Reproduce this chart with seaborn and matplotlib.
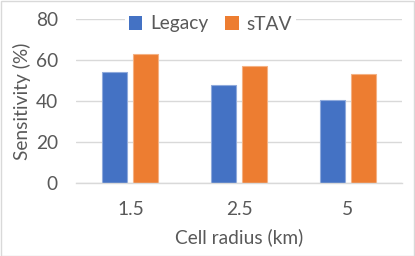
import matplotlib
matplotlib.use("Agg")
import matplotlib.pyplot as plt
import seaborn as sns
import pandas as pd
from matplotlib.patches import Rectangle

categories = ["1.5", "2.5", "5"]
legacy = [54, 48, 40.6]
stav = [63, 57, 53]
series_names = ["Legacy", "sTAV"]
colors = ["#4472C4", "#ED7D31"]
edge_colors = ["#8FAADC", "#F4B183"]

df = pd.DataFrame({
    "radius": categories * 2,
    "value": legacy + stav,
    "series": [series_names[0]] * 3 + [series_names[1]] * 3,
})

sns.set_theme(style="white")
plt.rcParams["font.family"] = ["Lato", "DejaVu Sans"]
text_color = "#595959"
grid_color = "#D9D9D9"
fs = 13.8

fig = plt.figure(figsize=(4.15, 2.56), dpi=100)
W, H = 415, 256
ax = fig.add_axes([76 / W, (H - 183) / H, (402 - 76) / W, (183 - 19) / H])

sns.barplot(data=df, x="radius", y="value", hue="series", order=categories,
            hue_order=series_names, palette=colors, width=0.57, gap=0.19,
            saturation=1, ax=ax, legend=False, errorbar=None)

for i, container in enumerate(ax.containers):
    for p in container:
        p.set_edgecolor(edge_colors[i])
        p.set_linewidth(0.8)

ax.set_ylim(0, 80)
ax.set_yticks([0, 20, 40, 60, 80])
ax.set_xlim(-0.5, 2.5)
ax.grid(axis="y", color=grid_color, linewidth=1)
ax.set_axisbelow(True)
for s in ["top", "right", "left"]:
    ax.spines[s].set_visible(False)
ax.spines["bottom"].set_color(grid_color)
ax.spines["bottom"].set_linewidth(1)

ax.tick_params(axis="both", length=0, labelsize=fs, colors=text_color)
ax.tick_params(axis="y", pad=13)
ax.tick_params(axis="x", pad=13)

ax.set_xlabel("Cell radius (km)", fontsize=fs, color=text_color, labelpad=7)
ax.set_ylabel("Sensitivity (%)", fontsize=fs, color=text_color)
ax.yaxis.set_label_coords(-(76 - 31) / (402 - 76), 0.5)

handles = [Rectangle((0, 0), 1, 1, facecolor=c, edgecolor="none") for c in colors]
leg = ax.legend(handles, series_names, loc="center", bbox_to_anchor=(0.507, 1 - 24 / H),
                bbox_transform=fig.transFigure, ncol=2, frameon=True,
                fontsize=fs, handlelength=0.7, handleheight=0.7,
                handletextpad=0.4, columnspacing=0.9, borderpad=0.2)
leg.get_frame().set_facecolor("white")
leg.get_frame().set_edgecolor("none")
leg.get_frame().set_alpha(1)
for t in leg.get_texts():
    t.set_color(text_color)

fig.patches.append(Rectangle((0.5 / W, 0.5 / H), 1 - 1.5 / W, 1 - 1.5 / H,
                             transform=fig.transFigure, fill=False,
                             edgecolor="#D9D9D9", linewidth=1))

fig.savefig("out.png", dpi=100, facecolor="white")
